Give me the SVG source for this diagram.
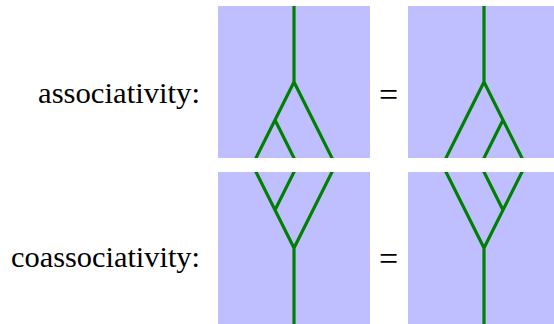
<svg xmlns="http://www.w3.org/2000/svg" width="554" height="324" viewBox="0 0 554 324">
<style>
.box{fill:#bfbfff;stroke:none}
.w{stroke:#008000;stroke-width:3.2;fill:none;stroke-linecap:butt;stroke-linejoin:miter}
.lbl{font-family:"Liberation Serif","Times New Roman",serif;font-size:28.5px;fill:#000}
.eq{font-family:"Liberation Serif","Times New Roman",serif;font-size:34px;fill:#000;text-anchor:middle}
</style>
<defs>
<clipPath id="c1"><rect x="218" y="6" width="152" height="152"/></clipPath>
<clipPath id="c2"><rect x="408" y="6" width="152" height="152"/></clipPath>
<clipPath id="c3"><rect x="218" y="172" width="152" height="152"/></clipPath>
<clipPath id="c4"><rect x="408" y="172" width="152" height="152"/></clipPath>
</defs>
<g id="labels">
<text class="lbl" x="38" y="103" textLength="162" lengthAdjust="spacingAndGlyphs">associativity:</text>
<text class="lbl" x="11" y="267" textLength="189" lengthAdjust="spacingAndGlyphs">coassociativity:</text>
<text class="eq" x="388.5" y="106">=</text>
<text class="eq" x="388.5" y="270">=</text>
</g>
<g id="assoc-left">
<rect class="box" x="218" y="6" width="152" height="152"/>
<g clip-path="url(#c1)" class="w">
<path d="M294,0 V82 M294,82 L253,164 M294,82 L335,164 M275,120 L297,164"/>
</g>
</g>
<g id="assoc-right">
<rect class="box" x="408" y="6" width="152" height="152"/>
<g clip-path="url(#c2)" class="w">
<path d="M484,0 V82 M484,82 L443,164 M484,82 L525,164 M503,120 L481,164"/>
</g>
</g>
<g id="coassoc-left">
<rect class="box" x="218" y="172" width="152" height="152"/>
<g clip-path="url(#c3)" class="w">
<path d="M294,330 V248 M294,248 L253,166 M294,248 L335,166 M275,210 L297,166"/>
</g>
</g>
<g id="coassoc-right">
<rect class="box" x="408" y="172" width="152" height="152"/>
<g clip-path="url(#c4)" class="w">
<path d="M484,330 V248 M484,248 L443,166 M484,248 L525,166 M503,210 L481,166"/>
</g>
</g>
</svg>
